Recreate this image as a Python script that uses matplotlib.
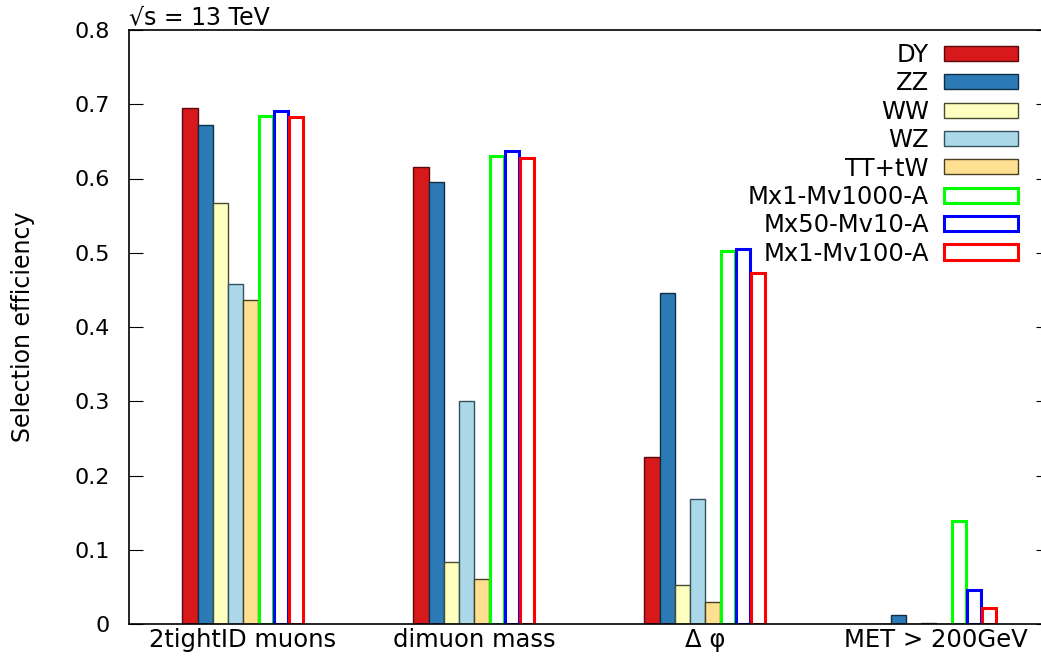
import matplotlib.pyplot as plt
import numpy as np
from matplotlib.patches import Patch

plt.rcParams.update({"font.family": "DejaVu Sans", "font.size": 16})

categories = ["2tightID muons", "dimuon mass", "Δ φ", "MET > 200GeV"]

samples = ["DY", "ZZ", "WW", "WZ", "TT+tW",
           "Mx1-Mv1000-A", "Mx50-Mv10-A", "Mx1-Mv100-A"]

# selection efficiency per cut, one list per sample
eff_dy = [0.695, 0.615, 0.225, 0.0]
eff_zz = [0.672, 0.595, 0.446, 0.012]
eff_ww = [0.567, 0.084, 0.053, 0.0]
eff_wz = [0.458, 0.300, 0.168, 0.002]
eff_tt = [0.436, 0.061, 0.030, 0.0]
eff_sig_1000 = [0.684, 0.630, 0.502, 0.139]
eff_sig_10 = [0.691, 0.637, 0.505, 0.046]
eff_sig_100 = [0.683, 0.628, 0.473, 0.021]

efficiencies = [eff_dy, eff_zz, eff_ww, eff_wz, eff_tt,
                eff_sig_1000, eff_sig_10, eff_sig_100]

fill_colors = ["#d7191c", "#2c7bb6", "#ffffbf", "#abd9e9", "#fee090"]
fill_edges = ["#5a0a0b", "#0f2f47", "#4a4a30", "#34525e", "#4a3f20"]
line_colors = ["#00ff00", "#0000ff", "#ff0000"]

fig = plt.figure(figsize=(10.41, 6.57), dpi=100)
# the frame runs a little past the right border of the canvas
ax = fig.add_axes([129 / 1041, 33 / 657, (1050 - 129) / 1041, 594 / 657])

x = np.arange(1, len(categories) + 1)
width = 0.0655
offsets = (np.arange(len(samples)) - (len(samples) - 1) / 2) * width

handles = []
for i, (name, vals) in enumerate(zip(samples, efficiencies)):
    if i < len(fill_colors):
        ax.bar(x + offsets[i], vals, width=width, color=fill_colors[i],
               edgecolor=fill_edges[i], linewidth=1.0)
        handles.append(Patch(facecolor=fill_colors[i], edgecolor=fill_edges[i],
                             linewidth=1.0, label=name))
    else:
        col = line_colors[i - len(fill_colors)]
        ax.bar(x + offsets[i], vals, width=width - 0.005, facecolor="none",
               edgecolor=col, linewidth=2.2)
        handles.append(Patch(facecolor="none", edgecolor=col,
                             linewidth=2.2, label=name))

ax.set_xlim(0.507, 4.493)
ax.set_ylim(0, 0.8)
ax.set_xticks(x)
ax.set_xticklabels(categories, fontsize=17.5)
ax.set_yticks(np.arange(0, 0.81, 0.1))
ax.set_yticklabels(["0", "0.1", "0.2", "0.3", "0.4", "0.5", "0.6", "0.7", "0.8"])
ax.tick_params(axis="x", length=0, pad=3)
ax.tick_params(axis="y", direction="in", length=10, right=True, pad=14)
ax.set_ylabel("Selection efficiency", fontsize=17)
ax.yaxis.set_label_coords(-0.102, 0.5)

for side in ax.spines.values():
    side.set_linewidth(1.2)

ax.text(0.0, 1.002, "√s = 13 TeV", transform=ax.transAxes,
        ha="left", va="bottom", fontsize=17)

ax.legend(handles=handles, loc="upper right", markerfirst=False,
          bbox_to_anchor=(1018 / 1041, 1 - 43 / 657),
          bbox_transform=fig.transFigure, frameon=False, fontsize=17.5,
          handlelength=3.05, handleheight=0.58, labelspacing=0.18,
          handletextpad=0.62, borderaxespad=0, borderpad=0)

fig.savefig("out.png", dpi=100)
